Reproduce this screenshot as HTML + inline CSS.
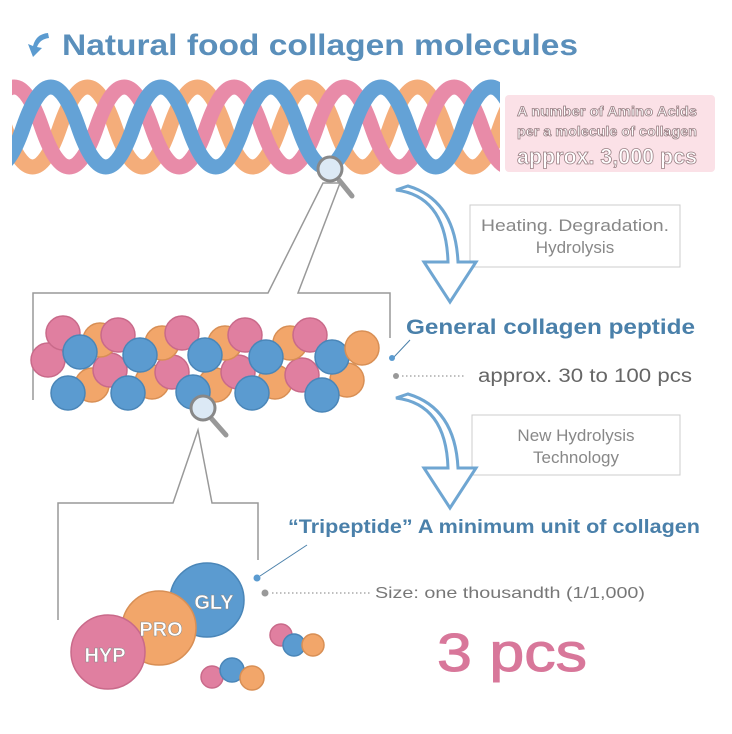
<!DOCTYPE html>
<html><head><meta charset="utf-8"><style>
html,body{margin:0;padding:0;background:#fff;}
svg{display:block;font-family:"Liberation Sans",sans-serif;}
</style></head><body>
<svg width="732" height="734" viewBox="0 0 732 734" xmlns="http://www.w3.org/2000/svg">
<defs>
<clipPath id="hc"><rect x="12" y="70" width="488" height="115"/></clipPath>
<path id="sw" d="M-160 127 Q-132.5 47 -105 127 T-50 127 T5 127 T60 127 T115 127 T170 127 T225 127 T280 127 T335 127 T390 127 T445 127 T500 127 T555 127 T610 127"/>
</defs>
<rect width="732" height="734" fill="#fff"/>
<!-- title -->
<path d="M48 33 Q36 34 33 46 L28 44 L33 57 L42 48 L37 47 Q40 39 49 38 Z" fill="#5b9bd0"/>
<text x="62" y="55" font-size="30" font-weight="bold" fill="#5a8fbb" textLength="516" lengthAdjust="spacingAndGlyphs">Natural food collagen molecules</text>
<!-- helix -->
<g clip-path="url(#hc)" fill="none" stroke-width="15">
<use href="#sw" stroke="#f4ad7a"/>
<use href="#sw" stroke="#e88ba8" transform="translate(36.7 0)"/>
<use href="#sw" stroke="#64a2d6" transform="translate(73.3 0)"/>
</g>
<!-- pink box -->
<rect x="505" y="95" width="210" height="77" rx="4" fill="#fbe1e7"/>
<g fill="#fff" stroke="#9a8085" stroke-width="0.8" font-weight="bold">
<text x="517" y="116" font-size="14" textLength="180" lengthAdjust="spacingAndGlyphs">A number of Amino Acids</text>
<text x="517" y="136" font-size="14" textLength="180" lengthAdjust="spacingAndGlyphs">per a molecule of collagen</text>
<text x="517" y="164" font-size="22" textLength="180" lengthAdjust="spacingAndGlyphs">approx. 3,000 pcs</text>
</g>
<!-- magnifier 1 -->
<line x1="339" y1="180" x2="352" y2="196" stroke="#999" stroke-width="5" stroke-linecap="round"/>
<circle cx="330" cy="169" r="12" fill="#dce9f5" stroke="#888" stroke-width="3"/>
<!-- bracket 1 -->
<polyline points="33,400 33,293 268,293 323,183 340,183 298,293 390,293 390,338" fill="none" stroke="#999" stroke-width="1.5"/>
<!-- box 1 + arrow 1 -->
<rect x="470" y="205" width="210" height="62" fill="#fff" stroke="#ccc"/>
<text x="481" y="231" font-size="17" fill="#888" textLength="188" lengthAdjust="spacingAndGlyphs">Heating. Degradation.</text>
<text x="575" y="253" font-size="17" fill="#888" text-anchor="middle">Hydrolysis</text>
<path d="M396 190 Q446 196 448 262 L424 262 L450 302 L476 262 L458 262 Q455 200 408 186 Z" fill="#fff" stroke="#6fa6d2" stroke-width="3"/>
<!-- balls -->
<g stroke-width="1.5">
<circle cx="48" cy="360" r="17" fill="#e07fa0" stroke="#c96a8a"/>
<circle cx="92" cy="385" r="17" fill="#f2a66a" stroke="#d88f55"/>
<circle cx="68" cy="393" r="17" fill="#5b9bd0" stroke="#4a86b8"/>
<circle cx="110" cy="370" r="17" fill="#e07fa0" stroke="#c96a8a"/>
<circle cx="152" cy="382" r="17" fill="#f2a66a" stroke="#d88f55"/>
<circle cx="128" cy="393" r="17" fill="#5b9bd0" stroke="#4a86b8"/>
<circle cx="172" cy="372" r="17" fill="#e07fa0" stroke="#c96a8a"/>
<circle cx="215" cy="385" r="17" fill="#f2a66a" stroke="#d88f55"/>
<circle cx="193" cy="392" r="17" fill="#5b9bd0" stroke="#4a86b8"/>
<circle cx="238" cy="372" r="17" fill="#e07fa0" stroke="#c96a8a"/>
<circle cx="275" cy="382" r="17" fill="#f2a66a" stroke="#d88f55"/>
<circle cx="252" cy="393" r="17" fill="#5b9bd0" stroke="#4a86b8"/>
<circle cx="302" cy="375" r="17" fill="#e07fa0" stroke="#c96a8a"/>
<circle cx="347" cy="380" r="17" fill="#f2a66a" stroke="#d88f55"/>
<circle cx="322" cy="395" r="17" fill="#5b9bd0" stroke="#4a86b8"/>
<circle cx="63" cy="333" r="17" fill="#e07fa0" stroke="#c96a8a"/>
<circle cx="100" cy="340" r="17" fill="#f2a66a" stroke="#d88f55"/>
<circle cx="80" cy="352" r="17" fill="#5b9bd0" stroke="#4a86b8"/>
<circle cx="118" cy="335" r="17" fill="#e07fa0" stroke="#c96a8a"/>
<circle cx="162" cy="343" r="17" fill="#f2a66a" stroke="#d88f55"/>
<circle cx="140" cy="355" r="17" fill="#5b9bd0" stroke="#4a86b8"/>
<circle cx="182" cy="333" r="17" fill="#e07fa0" stroke="#c96a8a"/>
<circle cx="225" cy="343" r="17" fill="#f2a66a" stroke="#d88f55"/>
<circle cx="205" cy="355" r="17" fill="#5b9bd0" stroke="#4a86b8"/>
<circle cx="245" cy="335" r="17" fill="#e07fa0" stroke="#c96a8a"/>
<circle cx="290" cy="343" r="17" fill="#f2a66a" stroke="#d88f55"/>
<circle cx="266" cy="357" r="17" fill="#5b9bd0" stroke="#4a86b8"/>
<circle cx="310" cy="335" r="17" fill="#e07fa0" stroke="#c96a8a"/>
<circle cx="332" cy="357" r="17" fill="#5b9bd0" stroke="#4a86b8"/>
<circle cx="362" cy="348" r="17" fill="#f2a66a" stroke="#d88f55"/>
</g>
<!-- peptide labels -->
<text x="406" y="334" font-size="21" font-weight="bold" fill="#4a80aa" textLength="289" lengthAdjust="spacingAndGlyphs">General collagen peptide</text>
<line x1="394" y1="357" x2="410" y2="340" stroke="#4a80aa" stroke-width="1"/>
<circle cx="392" cy="358" r="3" fill="#5b9bd0"/>
<circle cx="396" cy="376" r="3" fill="#999"/>
<line x1="402" y1="376" x2="465" y2="376" stroke="#999" stroke-width="1.2" stroke-dasharray="1.5 2.5"/>
<text x="478" y="382" font-size="19" fill="#666" textLength="214" lengthAdjust="spacingAndGlyphs">approx. 30 to 100 pcs</text>
<!-- magnifier 2 -->
<line x1="211" y1="418" x2="226" y2="435" stroke="#999" stroke-width="5" stroke-linecap="round"/>
<circle cx="203" cy="408" r="12" fill="#dce9f5" stroke="#888" stroke-width="3"/>
<!-- bracket 2 -->
<polyline points="58,620 58,503 173,503 198,430 212,503 258,503 258,560" fill="none" stroke="#999" stroke-width="1.5"/>
<!-- box 2 + arrow 2 -->
<rect x="472" y="415" width="208" height="60" fill="#fff" stroke="#ccc"/>
<text x="576" y="441" font-size="17" fill="#888" text-anchor="middle">New Hydrolysis</text>
<text x="576" y="463" font-size="17" fill="#888" text-anchor="middle">Technology</text>
<path d="M396 398 Q446 404 448 468 L424 468 L450 508 L476 468 L458 468 Q455 408 408 394 Z" fill="#fff" stroke="#6fa6d2" stroke-width="3"/>
<!-- tripeptide -->
<text x="288" y="533" font-size="19.5" font-weight="bold" fill="#4a80aa" textLength="412" lengthAdjust="spacingAndGlyphs">“Tripeptide” A minimum unit of collagen</text>
<line x1="260" y1="576" x2="307" y2="545" stroke="#4a80aa" stroke-width="1"/>
<circle cx="257" cy="578" r="3.5" fill="#5b9bd0"/>
<circle cx="265" cy="593" r="3.5" fill="#999"/>
<line x1="272" y1="593" x2="370" y2="593" stroke="#999" stroke-width="1.2" stroke-dasharray="1.5 2.5"/>
<text x="375" y="598" font-size="16" fill="#777" textLength="270" lengthAdjust="spacingAndGlyphs">Size: one thousandth (1/1,000)</text>
<g stroke-width="1.5">
<circle cx="207" cy="600" r="37" fill="#5b9bd0" stroke="#4a86b8"/>
<circle cx="159" cy="628" r="37" fill="#f2a66a" stroke="#d88f55"/>
<circle cx="108" cy="652" r="37" fill="#e07fa0" stroke="#c96a8a"/>
<circle cx="281" cy="635" r="11" fill="#e07fa0" stroke="#c96a8a"/>
<circle cx="294" cy="645" r="11" fill="#5b9bd0" stroke="#4a86b8"/>
<circle cx="313" cy="645" r="11" fill="#f2a66a" stroke="#d88f55"/>
<circle cx="212" cy="677" r="11" fill="#e07fa0" stroke="#c96a8a"/>
<circle cx="232" cy="670" r="12" fill="#5b9bd0" stroke="#4a86b8"/>
<circle cx="252" cy="678" r="12" fill="#f2a66a" stroke="#d88f55"/>
</g>
<g fill="#fff" font-size="20" font-weight="bold" text-anchor="middle" stroke="#888" stroke-width="0.5">
<text x="214" y="609">GLY</text>
<text x="161" y="636">PRO</text>
<text x="105" y="662">HYP</text>
</g>
<text x="437" y="671" font-size="54" fill="#d8779a" stroke="#d8779a" stroke-width="1" textLength="150" lengthAdjust="spacingAndGlyphs">3 pcs</text>
</svg>
</body></html>
